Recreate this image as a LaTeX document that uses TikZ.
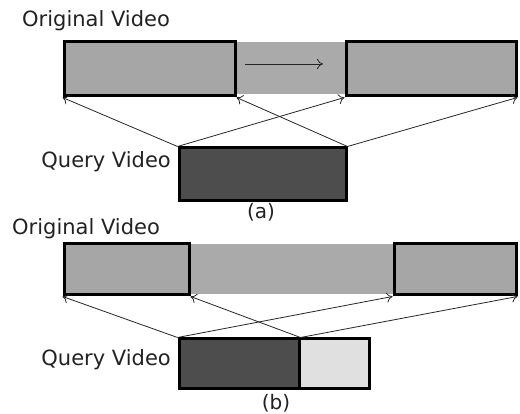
\documentclass[tikz,border=0pt]{standalone}
\usepackage{fontspec}
\setmainfont{DejaVu Sans}
\usetikzlibrary{arrows.meta}
\definecolor{boxgray}{HTML}{A6A6A6}
\definecolor{bandgray}{HTML}{AAAAAA}
\definecolor{darkgray2}{HTML}{4D4D4D}
\definecolor{lightgray2}{HTML}{E0E0E0}
\definecolor{txt}{HTML}{222222}
\tikzset{
  vbox/.style={draw=black, line width=3pt, fill=boxgray, inner sep=0pt, minimum width=#1, anchor=center},
  qbox/.style={draw=black, line width=3pt, fill=darkgray2, inner sep=0pt, minimum width=#1, anchor=center},
  lbox/.style={draw=black, line width=3pt, fill=lightgray2, inner sep=0pt, minimum width=#1, anchor=center},
  band/.style={fill=bandgray, draw=none},
  link/.style={line width=0.8pt, draw=black!85, -{To[length=6pt,width=10pt]}},
  lab/.style={font=\fontsize{21}{24}\selectfont, text=txt, inner sep=0pt},
  captext/.style={font=\fontsize{20}{24}\selectfont, text=txt, inner sep=0pt}
}
\begin{document}
\begin{tikzpicture}[x=1pt,y=1pt]
\useasboundingbox (0,0) rectangle (520,414);
% ---------- (a) ----------
\fill[band] (235,320) rectangle (346,372);
\node[vbox=171pt, minimum height=54pt] (aL) at (149.5,345) {};
\node[vbox=170pt, minimum height=54pt] (aR) at (431,345) {};
\node[qbox=167pt, minimum height=53pt] (aQ) at (262.5,239.5) {};
\coordinate (aS) at (245,350);
\coordinate (aE) at (323,350);
\draw[link] (aS) -- (aE);
\node[lab, anchor=base west] (aOT) at (22,387) {Original Video};
\node[lab, anchor=base east] (aQT) at (171,246) {Query Video};
\node[captext] (aC) at (261,202) {(a)};
\draw[link] (aQ.north west) -- (aL.south west);
\draw[link] (aQ.north west) -- (aR.south west);
\draw[link] (aQ.north east) -- (aL.south east);
\draw[link] (aQ.north east) -- (aR.south east);
% ---------- (b) ----------
\fill[band] (189,120) rectangle (394,170);
\node[vbox=125pt, minimum height=51pt] (bL) at (126.5,144.5) {};
\node[vbox=122pt, minimum height=51pt] (bR) at (455,144.5) {};
\node[lbox=70pt, minimum height=50pt] (bQL) at (334,50) {};
\node[qbox=120pt, minimum height=50pt] (bQ) at (239,50) {};
\node[lab, anchor=base west] (bOT) at (12,179) {Original Video};
\node[lab, anchor=base east] (bQT) at (171,48) {Query Video};
\node[captext] (bC) at (276,11) {(b)};
\draw[link] (bQ.north west) -- (bL.south west);
\draw[link] (bQ.north west) -- (bR.south west);
\draw[link] (bQ.north east) -- (bL.south east);
\draw[link] (bQ.north east) -- (bR.south east);
\end{tikzpicture}
\end{document}
